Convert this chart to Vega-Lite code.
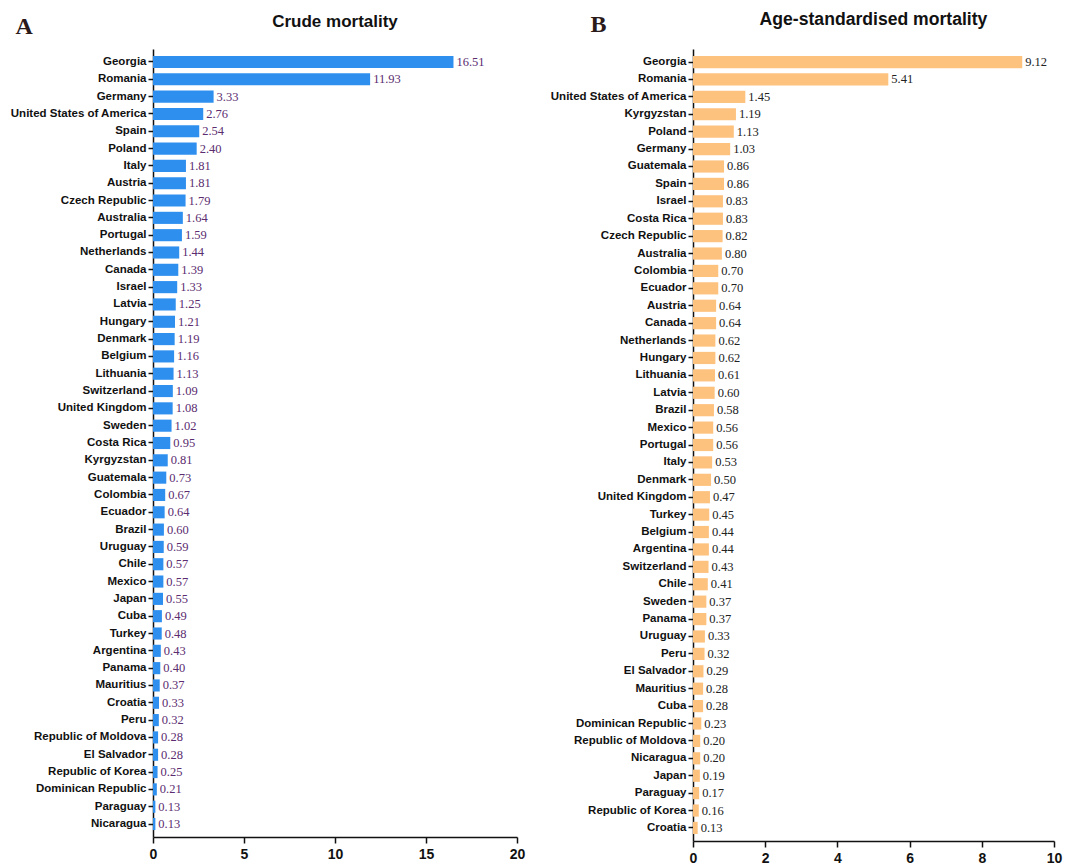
{
  "$schema": "https://vega.github.io/schema/vega-lite/v6.json",
  "background": "white",
  "padding": {"left": 9, "top": 11, "right": 5, "bottom": 5},
  "spacing": 24,
  "config": {
    "view": {"stroke": null},
    "axis": {"domainColor": "#111", "tickColor": "#111", "labelColor": "#111", "grid": false, "domainWidth": 1.5, "tickWidth": 1.5},
    "title": {"font": "Liberation Sans", "fontSize": 17, "fontWeight": "bold", "color": "#111", "anchor": "middle", "offset": -17}
  },
  "datasets": {
    "crude": [
      {"country": "Georgia", "value": 16.51},
      {"country": "Romania", "value": 11.93},
      {"country": "Germany", "value": 3.33},
      {"country": "United States of America", "value": 2.76},
      {"country": "Spain", "value": 2.54},
      {"country": "Poland", "value": 2.40},
      {"country": "Italy", "value": 1.81},
      {"country": "Austria", "value": 1.81},
      {"country": "Czech Republic", "value": 1.79},
      {"country": "Australia", "value": 1.64},
      {"country": "Portugal", "value": 1.59},
      {"country": "Netherlands", "value": 1.44},
      {"country": "Canada", "value": 1.39},
      {"country": "Israel", "value": 1.33},
      {"country": "Latvia", "value": 1.25},
      {"country": "Hungary", "value": 1.21},
      {"country": "Denmark", "value": 1.19},
      {"country": "Belgium", "value": 1.16},
      {"country": "Lithuania", "value": 1.13},
      {"country": "Switzerland", "value": 1.09},
      {"country": "United Kingdom", "value": 1.08},
      {"country": "Sweden", "value": 1.02},
      {"country": "Costa Rica", "value": 0.95},
      {"country": "Kyrgyzstan", "value": 0.81},
      {"country": "Guatemala", "value": 0.73},
      {"country": "Colombia", "value": 0.67},
      {"country": "Ecuador", "value": 0.64},
      {"country": "Brazil", "value": 0.60},
      {"country": "Uruguay", "value": 0.59},
      {"country": "Chile", "value": 0.57},
      {"country": "Mexico", "value": 0.57},
      {"country": "Japan", "value": 0.55},
      {"country": "Cuba", "value": 0.49},
      {"country": "Turkey", "value": 0.48},
      {"country": "Argentina", "value": 0.43},
      {"country": "Panama", "value": 0.40},
      {"country": "Mauritius", "value": 0.37},
      {"country": "Croatia", "value": 0.33},
      {"country": "Peru", "value": 0.32},
      {"country": "Republic of Moldova", "value": 0.28},
      {"country": "El Salvador", "value": 0.28},
      {"country": "Republic of Korea", "value": 0.25},
      {"country": "Dominican Republic", "value": 0.21},
      {"country": "Paraguay", "value": 0.13},
      {"country": "Nicaragua", "value": 0.13}
    ],
    "age": [
      {"country": "Georgia", "value": 9.12},
      {"country": "Romania", "value": 5.41},
      {"country": "United States of America", "value": 1.45},
      {"country": "Kyrgyzstan", "value": 1.19},
      {"country": "Poland", "value": 1.13},
      {"country": "Germany", "value": 1.03},
      {"country": "Guatemala", "value": 0.86},
      {"country": "Spain", "value": 0.86},
      {"country": "Israel", "value": 0.83},
      {"country": "Costa Rica", "value": 0.83},
      {"country": "Czech Republic", "value": 0.82},
      {"country": "Australia", "value": 0.80},
      {"country": "Colombia", "value": 0.70},
      {"country": "Ecuador", "value": 0.70},
      {"country": "Austria", "value": 0.64},
      {"country": "Canada", "value": 0.64},
      {"country": "Netherlands", "value": 0.62},
      {"country": "Hungary", "value": 0.62},
      {"country": "Lithuania", "value": 0.61},
      {"country": "Latvia", "value": 0.60},
      {"country": "Brazil", "value": 0.58},
      {"country": "Mexico", "value": 0.56},
      {"country": "Portugal", "value": 0.56},
      {"country": "Italy", "value": 0.53},
      {"country": "Denmark", "value": 0.50},
      {"country": "United Kingdom", "value": 0.47},
      {"country": "Turkey", "value": 0.45},
      {"country": "Belgium", "value": 0.44},
      {"country": "Argentina", "value": 0.44},
      {"country": "Switzerland", "value": 0.43},
      {"country": "Chile", "value": 0.41},
      {"country": "Sweden", "value": 0.37},
      {"country": "Panama", "value": 0.37},
      {"country": "Uruguay", "value": 0.33},
      {"country": "Peru", "value": 0.32},
      {"country": "El Salvador", "value": 0.29},
      {"country": "Mauritius", "value": 0.28},
      {"country": "Cuba", "value": 0.28},
      {"country": "Dominican Republic", "value": 0.23},
      {"country": "Republic of Moldova", "value": 0.20},
      {"country": "Nicaragua", "value": 0.20},
      {"country": "Japan", "value": 0.19},
      {"country": "Paraguay", "value": 0.17},
      {"country": "Republic of Korea", "value": 0.16},
      {"country": "Croatia", "value": 0.13}
    ]
  },
  "hconcat": [
    {
      "data": {"name": "crude"},
      "width": 364,
      "height": 788,
      "title": "Crude mortality",
      "encoding": {
        "y": {"field": "country", "type": "nominal", "sort": null,
          "scale": {"paddingInner": 0.3, "paddingOuter": 0.4},
          "axis": {"title": "A", "titleAngle": 0, "titleX": -138, "titleY": -16, "titleAlign": "left", "titleBaseline": "alphabetic", "titleFont": "Liberation Serif", "titleFontSize": 24, "titleFontWeight": "bold", "titleColor": "#2a1a1a",
            "labelFont": "Liberation Sans", "labelFontSize": 11.5, "labelFontWeight": "bold", "tickSize": 5, "labelPadding": 2}},
        "x": {"field": "value", "type": "quantitative",
          "scale": {"domain": [0, 20]},
          "axis": {"title": null, "values": [0, 5, 10, 15, 20], "labelFlush": false, "labelFont": "Liberation Sans", "labelFontSize": 14, "labelFontWeight": "bold", "tickSize": 6, "labelPadding": 4}}
      },
      "layer": [
        {"mark": {"type": "bar", "color": "#2f8fef"}},
        {"mark": {"type": "text", "align": "left", "baseline": "middle", "dx": 3, "font": "Liberation Serif", "fontSize": 12.5, "color": "#5b2c6f"},
          "encoding": {"text": {"field": "value", "type": "quantitative", "format": ".2f"}}}
      ]
    },
    {
      "data": {"name": "age"},
      "width": 361,
      "height": 792,
      "title": {"text": "Age-standardised mortality", "fontSize": 17.6},
      "encoding": {
        "y": {"field": "country", "type": "nominal", "sort": null,
          "scale": {"paddingInner": 0.3, "paddingOuter": 0.4},
          "axis": {"title": "B", "titleAngle": 0, "titleX": -103, "titleY": -18, "titleAlign": "left", "titleBaseline": "alphabetic", "titleFont": "Liberation Serif", "titleFontSize": 24, "titleFontWeight": "bold", "titleColor": "#2a1a1a",
            "labelFont": "Liberation Sans", "labelFontSize": 11.5, "labelFontWeight": "bold", "tickSize": 5, "labelPadding": 2}},
        "x": {"field": "value", "type": "quantitative",
          "scale": {"domain": [0, 10]},
          "axis": {"title": null, "values": [0, 2, 4, 6, 8, 10], "labelFlush": false, "labelFont": "Liberation Sans", "labelFontSize": 14, "labelFontWeight": "bold", "tickSize": 6, "labelPadding": 4}}
      },
      "layer": [
        {"mark": {"type": "bar", "color": "#fec27f"}},
        {"mark": {"type": "text", "align": "left", "baseline": "middle", "dx": 3, "font": "Liberation Serif", "fontSize": 12.5, "color": "#222"},
          "encoding": {"text": {"field": "value", "type": "quantitative", "format": ".2f"}}}
      ]
    }
  ]
}
